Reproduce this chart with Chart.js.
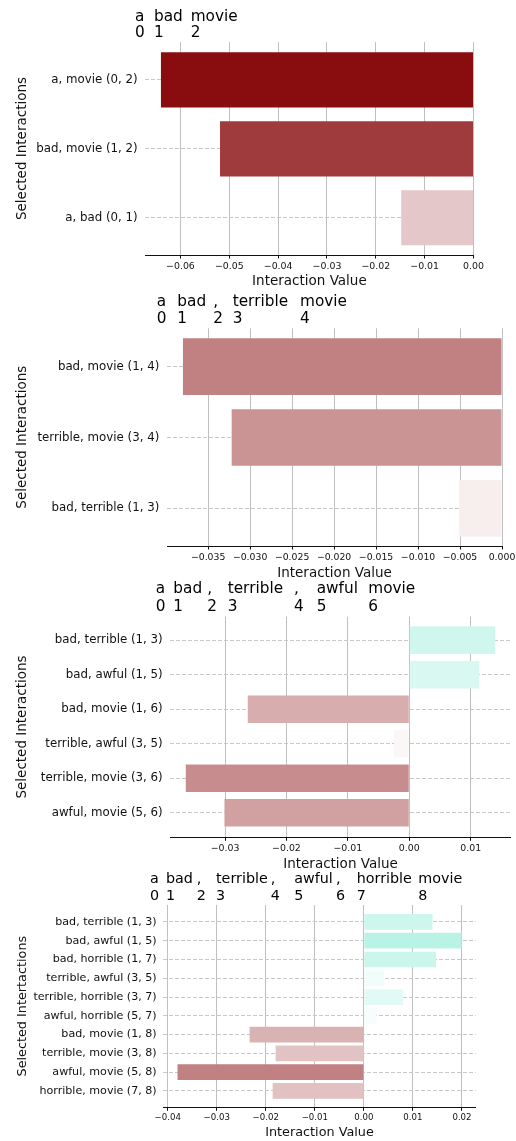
<!DOCTYPE html>
<html>
<head>
<meta charset="utf-8">
<script src="https://cdn.jsdelivr.net/npm/chart.js@4.4.1/dist/chart.umd.min.js"></script>
<style>
  html, body { margin: 0; padding: 0; background: #fff; }
  body { width: 516px; height: 1141px; position: relative; overflow: hidden; }
  canvas { position: absolute; left: 0; }
</style>
</head>
<body>
<canvas id="c1"></canvas>
<canvas id="c2"></canvas>
<canvas id="c3"></canvas>
<canvas id="c4"></canvas>
<script>
// ---- Sentence tokens (index = position in sentence) ----
const tokens1 = ["a", "bad", "movie"];
const tokens2 = ["a", "bad", ",", "terrible", "movie"];
const tokens3 = ["a", "bad", ",", "terrible", ",", "awful", "movie"];
const tokens4 = ["a", "bad", ",", "terrible", ",", "awful", ",", "horrible", "movie"];

// ---- Selected token pairs and their interaction values ----
const pairs1 = ["a, movie (0, 2)", "bad, movie (1, 2)", "a, bad (0, 1)"];
const values1 = [-0.0640, -0.0519, -0.0148];

const pairs2 = ["bad, movie (1, 4)", "terrible, movie (3, 4)", "bad, terrible (1, 3)"];
const values2 = [-0.0380, -0.0322, -0.0051];

const pairs3 = ["bad, terrible (1, 3)", "bad, awful (1, 5)", "bad, movie (1, 6)",
                "terrible, awful (3, 5)", "terrible, movie (3, 6)", "awful, movie (5, 6)"];
const values3 = [0.0140, 0.0114, -0.0263, -0.0025, -0.0364, -0.0301];

const pairs4 = ["bad, terrible (1, 3)", "bad, awful (1, 5)", "bad, horrible (1, 7)",
                "terrible, awful (3, 5)", "terrible, horrible (3, 7)", "awful, horrible (5, 7)",
                "bad, movie (1, 8)", "terrible, movie (3, 8)", "awful, movie (5, 8)",
                "horrible, movie (7, 8)"];
const values4 = [0.0140, 0.0199, 0.0147, 0.0041, 0.0080, 0.0026, -0.0233, -0.0180, -0.0380, -0.0186];

// ---- x-axis tick labels ----
const xTicks1 = ["\u22120.06", "\u22120.05", "\u22120.04", "\u22120.03", "\u22120.02", "\u22120.01", "0.00"];
const xTicks2 = ["\u22120.035", "\u22120.030", "\u22120.025", "\u22120.020", "\u22120.015", "\u22120.010", "\u22120.005", "0.000"];
const xTicks3 = ["\u22120.03", "\u22120.02", "\u22120.01", "0.00", "0.01"];
const xTicks4 = ["\u22120.04", "\u22120.03", "\u22120.02", "\u22120.01", "0.00", "0.01", "0.02"];

// ---- Panel layout and styling ----
const panels = [
  { id: "c1", tokens: tokens1, pairs: pairs1, values: values1, ticks: xTicks1,
    yTitle: "Selected Interactions",
    top: 0, height: 292, area: { left: 145.3, right: 473.5, top: 42, bottom: 255 },
    yRange: [-0.55, 2.54], barPct: 0.8,
    tokenX: [135, 154, 190.7], base: [20.7, 36.7],
    font: { head: 15.3, tick: 9.4, cat: 11.8, title: 13.5 },
    xTitleCenter: 281.5, yTitlePad: 14.7, catPad: 7.6,
    shade: { neg: 14.8, pos: 17 } },
  { id: "c2", tokens: tokens2, pairs: pairs2, values: values2, ticks: xTicks2,
    yTitle: "Selected Interactions",
    top: 288, height: 296, area: { left: 167, right: 502, top: 328.3, bottom: 546 },
    yRange: [-0.54, 2.53], barPct: 0.8,
    tokenX: [156.7, 177.3, 213.3, 232.7, 300], base: [18, 34.7],
    font: { head: 15.3, tick: 9.3, cat: 11.8, title: 13.5 },
    xTitleCenter: 573, yTitlePad: 14.7, catPad: 7.7,
    shade: { neg: 13.1, pos: 17 } },
  { id: "c3", tokens: tokens3, pairs: pairs3, values: values3, ticks: xTicks3,
    yTitle: "Selected Interactions",
    top: 580, height: 294, area: { left: 170.3, right: 510.7, top: 616.7, bottom: 837.3 },
    yRange: [-0.68, 5.71], barPct: 0.8,
    tokenX: [155.7, 173.3, 207.3, 227.7, 294, 316.7, 368.3], base: [13.3, 31],
    font: { head: 15.3, tick: 9.4, cat: 11.8, title: 13.5 },
    xTitleCenter: 864, yTitlePad: 14.7, catPad: 7.6,
    shade: { neg: 12.3, pos: 16.5 } },
  { id: "c4", tokens: tokens4, pairs: pairs4, values: values4, ticks: xTicks4,
    yTitle: "Selected Intertactions",
    top: 868, height: 273, area: { left: 163.3, right: 475.7, top: 905, bottom: 1107.3 },
    yRange: [-0.9, 9.87], barPct: 0.835,
    tokenX: [150, 166, 196.7, 216, 270.7, 294.3, 336, 356.7, 418.3], base: [15.3, 32],
    font: { head: 14.3, tick: 8.6, cat: 11.1, title: 12.8 },
    xTitleCenter: 1132.8, yTitlePad: 14.6, catPad: 6.6,
    shade: { neg: 13.0, pos: 17.4 } }
];

const FONT = '"DejaVu Sans", "Noto Sans", sans-serif';
const INK = "#111";
Chart.defaults.font.family = FONT;
Chart.defaults.color = INK;

// Bar colour: white blended toward red (negative) or aquamarine (positive)
function shade(v, k) {
  const end = v < 0 ? [130, 0, 2] : [50, 220, 180];
  const a = Math.min(1, Math.abs(v) * (v < 0 ? k.neg : k.pos));
  const c = end.map(e => Math.round(255 - (255 - e) * a));
  return `rgb(${c[0]},${c[1]},${c[2]})`;
}

// Token line with position indices drawn above the plot
const tokenHeader = {
  id: "tokenHeader",
  afterDraw(chart, args, opts) {
    const ctx = chart.ctx;
    ctx.save();
    ctx.fillStyle = "#000";
    ctx.font = `${opts.size}px ${FONT}`;
    ctx.textAlign = "left";
    ctx.textBaseline = "alphabetic";
    opts.tokens.forEach((t, i) => {
      ctx.fillText(t, opts.x[i], opts.base[0]);
      ctx.fillText(String(i), opts.x[i], opts.base[1]);
    });
    ctx.restore();
  }
};

panels.forEach(p => {
  const canvas = document.getElementById(p.id);
  canvas.width = 516;
  canvas.height = p.height;
  canvas.style.top = p.top + "px";
  canvas.style.width = "516px";
  canvas.style.height = p.height + "px";

  const tickVals = p.ticks.map(s => parseFloat(s.replace("\u2212", "-")));
  const lo = Math.min(0, ...p.values);
  const hi = Math.max(0, ...p.values);
  const span = hi - lo;
  const xMin = lo < 0 ? lo - 0.05 * span : 0;
  const xMax = hi > 0 ? hi + 0.05 * span : 0;

  const bottom = p.top + p.height;
  const xAxisH = bottom - p.area.bottom;
  const titleLH = p.font.title * 1.2;
  const xTitlePadBottom = bottom - p.xTitleCenter - titleLH / 2;

  new Chart(canvas, {
    type: "bar",
    data: {
      datasets: [{
        data: p.values.map((v, i) => ({ x: v, y: i })),
        backgroundColor: p.values.map(v => shade(v, p.shade)),
        borderWidth: 0,
        categoryPercentage: 1,
        barPercentage: p.barPct
      }]
    },
    options: {
      indexAxis: "y",
      responsive: false,
      animation: false,
      events: [],
      layout: {
        padding: { top: p.area.top - p.top, right: 516 - p.area.right, left: 0, bottom: 0 }
      },
      plugins: {
        legend: { display: false },
        tooltip: { enabled: false },
        tokenHeader: { tokens: p.tokens, x: p.tokenX, base: p.base, size: p.font.head }
      },
      scales: {
        x: {
          type: "linear",
          position: "bottom",
          min: xMin,
          max: xMax,
          bounds: "data",
          offset: false,
          afterBuildTicks: s => { s.ticks = tickVals.map(v => ({ value: v })); },
          afterFit: s => { s.height = xAxisH; s.paddingLeft = 0; s.paddingRight = 0; },
          ticks: {
            callback: (v, i) => p.ticks[i],
            font: { size: p.font.tick },
            color: INK,
            padding: 2.2,
            maxRotation: 0,
            autoSkip: false
          },
          grid: {
            offset: false,
            color: "#c0c0c0",
            lineWidth: 1,
            drawTicks: true,
            tickLength: 3.5,
            tickColor: INK,
            tickWidth: 1
          },
          border: { display: true, color: INK, width: 1 },
          title: {
            display: true,
            text: "Interaction Value",
            color: INK,
            font: { size: p.font.title },
            padding: { top: 0, bottom: xTitlePadBottom }
          }
        },
        y: {
          type: "linear",
          position: "left",
          reverse: true,
          min: p.yRange[0],
          max: p.yRange[1],
          bounds: "data",
          offset: false,
          afterBuildTicks: s => { s.ticks = p.pairs.map((_, i) => ({ value: i })); },
          afterFit: s => { s.width = p.area.left; s.paddingTop = 0; s.paddingBottom = 0; },
          ticks: {
            callback: v => p.pairs[Math.round(v)],
            font: { size: p.font.cat },
            color: INK,
            padding: p.catPad,
            autoSkip: false
          },
          grid: { offset: false, color: "#c8c8c8", lineWidth: 1, drawTicks: false },
          border: { display: false, dash: [4, 2] },
          title: {
            display: true,
            text: p.yTitle,
            color: INK,
            font: { size: p.font.title },
            padding: { top: p.yTitlePad, bottom: 0 }
          }
        }
      }
    },
    plugins: [tokenHeader]
  });
});
</script>
</body>
</html>
